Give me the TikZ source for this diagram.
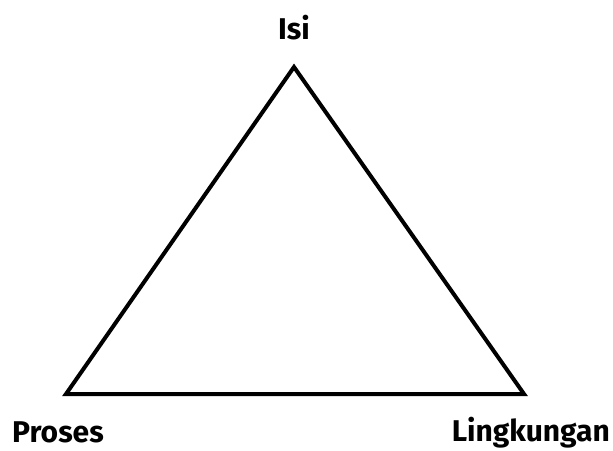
\documentclass[tikz,border=0pt]{standalone}
\usepackage{fontspec}
\setmainfont{Fira Sans}
\begin{document}
\begin{tikzpicture}[x=1pt,y=-1pt,
  lbl/.style={inner sep=0pt,font=\fontsize{30}{33}\selectfont\bfseries},
  edge/.style={line width=4pt,line join=miter}]
\useasboundingbox (0,0) rectangle (613,450);
\coordinate (top) at (294,67);
\coordinate (bl) at (66,394);
\coordinate (br) at (524,394);
\draw[edge] (top) -- (bl) -- (br) -- cycle;
\node[lbl,anchor=base] (isi) at (294,39) {Isi};
\node[lbl,anchor=base west] (proses) at (12,442) {Proses};
\node[lbl,anchor=base east] (ling) at (610,441) {Lingkungan};
\end{tikzpicture}
\end{document}
